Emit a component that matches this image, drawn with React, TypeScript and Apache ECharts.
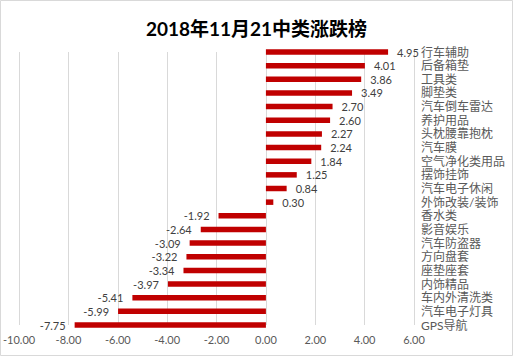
import React, { useEffect, useRef } from "react";
import * as echarts from "echarts";

const titleText = "2018年11月21中类涨跌榜";
const categories = [
  "行车辅助", "后备箱垫", "工具类", "脚垫类", "汽车倒车雷达", "养护用品", "头枕腰靠抱枕",
  "汽车膜", "空气净化类用品", "摆饰挂饰", "汽车电子休闲", "外饰改装/装饰", "香水类",
  "影音娱乐", "汽车防盗器", "方向盘套", "座垫座套", "内饰精品", "车内外清洗类",
  "汽车电子灯具", "GPS导航",
];
const values = [
  4.95, 4.01, 3.86, 3.49, 2.7, 2.6, 2.27, 2.24, 1.84, 1.25, 0.84, 0.3,
  -1.92, -2.64, -3.09, -3.22, -3.34, -3.97, -5.41, -5.99, -7.75,
];
const xMin = -10;
const xMax = 6;
const xStep = 2;

export default function App() {
  const ref = useRef<HTMLDivElement>(null);
  useEffect(() => {
    document.body.style.margin = "0";
    const chart = echarts.init(ref.current!, null, { renderer: "svg" });
    const font = "Lato, 'Noto Sans CJK SC', sans-serif";
    chart.setOption({
      animation: false,
      backgroundColor: "#ffffff",
      title: {
        text: titleText,
        left: "center",
        top: 14,
        textStyle: { fontSize: 19, fontWeight: "bold", color: "#000000", fontFamily: font },
      },
      grid: { left: 14.5, right: 99, top: 52, bottom: 31, containLabel: false },
      xAxis: {
        type: "value",
        min: xMin,
        max: xMax,
        interval: xStep,
        axisLine: { show: false },
        axisTick: { show: false },
        splitLine: { show: true, lineStyle: { color: "#d9d9d9", width: 1 } },
        axisLabel: {
          formatter: (v: number) => v.toFixed(2),
          color: "#595959",
          fontSize: 11,
          fontFamily: font,
          margin: 9,
        },
      },
      yAxis: {
        type: "category",
        data: categories,
        inverse: true,
        position: "right",
        boundaryGap: false,
        axisLine: { show: false },
        axisTick: { show: false },
        splitLine: { show: false },
        axisLabel: {
          color: "#595959",
          fontSize: 12,
          fontFamily: font,
          margin: 7,
          interval: 0,
        },
      },
      series: [
        {
          type: "bar",
          barWidth: 5.5,
          clip: true,
          itemStyle: { color: "#c00000" },
          data: values.map((v) => ({
            value: v,
            label: {
              show: true,
              position: v < 0 ? "left" : "right",
              distance: 9,
              formatter: (p: any) => Number(p.value).toFixed(2),
              color: "#404040",
              fontSize: 11,
              fontFamily: font,
            },
          })),
        },
      ],
      graphic: [
        {
          type: "rect",
          silent: true,
          z: 100,
          shape: { x: 0.5, y: 0.5, width: 512, height: 355 },
          style: { fill: "none", stroke: "#d9d9d9", lineWidth: 1 },
        },
      ],
    });
    return () => chart.dispose();
  }, []);
  return <div ref={ref} style={{ width: 513, height: 356 }} />;
}
